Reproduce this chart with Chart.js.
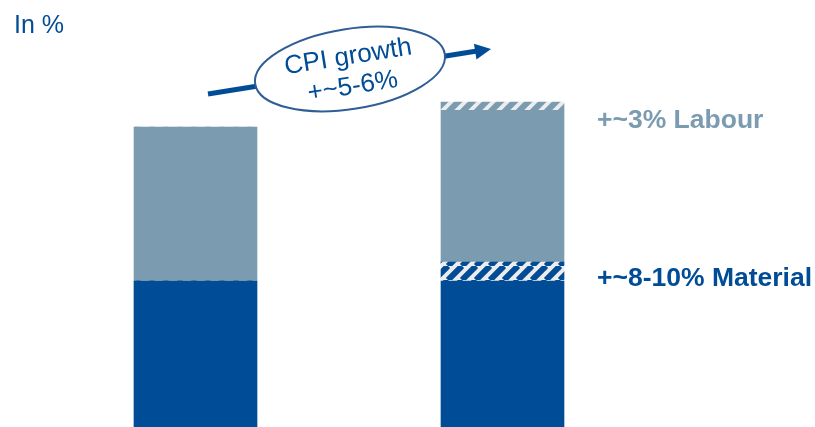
<!DOCTYPE html>
<html>
<head>
<meta charset="utf-8">
<script src="https://cdn.jsdelivr.net/npm/chart.js@4/dist/chart.umd.min.js"></script>
<style>
  html, body { margin: 0; padding: 0; background: #fff; }
  #wrap { position: relative; width: 815px; height: 427px; }
</style>
</head>
<body>
<div id="wrap"><canvas id="cost-chart" width="815" height="427"></canvas></div>
<script>
  // Index values (left bar material = 100).
  const categories = ['Before', 'After'];
  const materialBase = [100, 100];
  const materialIncrease = [0, 13];
  const labourBase = [105.5, 104];
  const labourIncrease = [0, 5.5];

  const BLUE = '#004c97';
  const GREY = '#7b9bb1';

  // Hachurado diagonal para los incrementos.
  function hatch(color) {
    const size = 14;
    const c = document.createElement('canvas');
    c.width = size;
    c.height = size;
    const g = c.getContext('2d');
    g.fillStyle = '#ededed';
    g.fillRect(0, 0, size, size);
    g.strokeStyle = color;
    g.lineWidth = 6;
    [[-size, 0], [0, 0], [size, 0]].forEach(function (o) {
      g.beginPath();
      g.moveTo(o[0], size);
      g.lineTo(o[0] + size, 0);
      g.stroke();
    });
    return g.createPattern(c, 'repeat');
  }

  const annotations = {
    id: 'annotations',
    afterDraw: function (chart) {
      const ctx = chart.ctx;
      ctx.save();

      // Eje: "In %"
      ctx.fillStyle = BLUE;
      ctx.font = '25px "Liberation Sans", Arial, sans-serif';
      ctx.textBaseline = 'middle';
      ctx.textAlign = 'left';
      ctx.fillText('In %', 14, 26);

      // Etiquetas a la derecha.
      ctx.font = 'bold 26.5px "Liberation Sans", Arial, sans-serif';
      ctx.fillStyle = GREY;
      ctx.fillText('+~3% Labour', 597, 121);
      ctx.fillStyle = BLUE;
      ctx.fillText('+~8-10% Material', 597, 279);

      // Flecha CPI.
      ctx.strokeStyle = BLUE;
      ctx.lineWidth = 5;
      ctx.beginPath();
      ctx.moveTo(208, 94);
      ctx.lineTo(477, 51);
      ctx.stroke();
      const ang = Math.atan2(51 - 94, 477 - 208);
      ctx.save();
      ctx.translate(491, 49);
      ctx.rotate(ang);
      ctx.fillStyle = BLUE;
      ctx.beginPath();
      ctx.moveTo(0, 0);
      ctx.lineTo(-16, -8);
      ctx.lineTo(-16, 8);
      ctx.closePath();
      ctx.fill();
      ctx.restore();

      // Elipse con texto.
      ctx.save();
      ctx.translate(350, 69);
      ctx.rotate(-9 * Math.PI / 180);
      ctx.beginPath();
      ctx.ellipse(0, 0, 96, 40, 0, 0, Math.PI * 2);
      ctx.fillStyle = '#ffffff';
      ctx.fill();
      ctx.lineWidth = 2;
      ctx.strokeStyle = '#2f5e96';
      ctx.stroke();
      ctx.fillStyle = BLUE;
      ctx.font = '26px "Liberation Sans", Arial, sans-serif';
      ctx.textAlign = 'center';
      ctx.fillText('CPI growth', 0, -12);
      ctx.fillText('+~5-6%', 0, 18);
      ctx.restore();

      ctx.restore();
    },
  };

  new Chart(document.getElementById('cost-chart'), {
    type: 'bar',
    data: {
      labels: categories,
      datasets: [
        { label: 'Material', data: materialBase, backgroundColor: BLUE },
        { label: 'Material increase', data: materialIncrease, backgroundColor: hatch(BLUE) },
        { label: 'Labour', data: labourBase, backgroundColor: GREY },
        { label: 'Labour increase', data: labourIncrease, backgroundColor: hatch(GREY) },
      ],
    },
    options: {
      responsive: false,
      animation: false,
      layout: { padding: { left: 42, right: 159, top: 0, bottom: 0 } },
      datasets: { bar: { barThickness: 123, borderWidth: 0 } },
      plugins: {
        legend: { display: false },
        tooltip: { enabled: false },
      },
      scales: {
        x: { stacked: true, display: false },
        y: { stacked: true, display: false, min: 0, max: 292.5 },
      },
    },
    plugins: [annotations],
  });
</script>
</body>
</html>
